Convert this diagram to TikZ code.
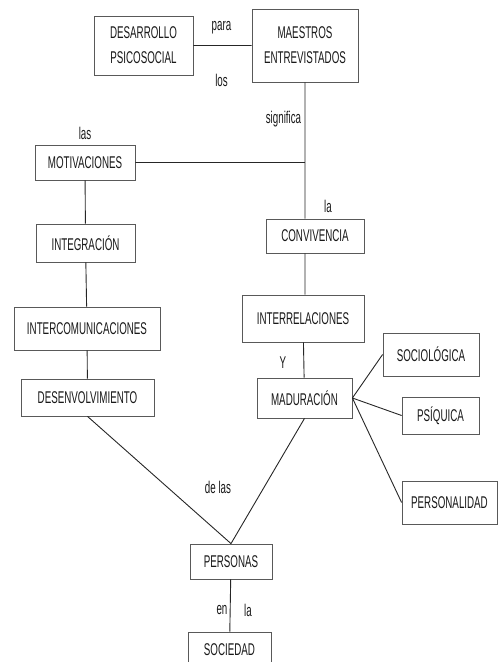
\documentclass[tikz,border=0pt]{standalone}
\usepackage{fontspec}
\setmainfont{Liberation Sans}[FakeStretch=0.575]
\usetikzlibrary{calc}

\begin{document}
\begin{tikzpicture}[x=1pt,y=-1pt,
    concept/.style={draw=black!65,line width=0.8pt,fill=white,inner sep=0pt,align=center,
        text=black!90,font=\fontsize{17}{25}\selectfont},
    word/.style={inner sep=0pt,text=black!90,font=\fontsize{17}{18}\selectfont},
    link/.style={draw=black!85,line width=0.9pt}]
\clip (0,0) rectangle (498,662);
\useasboundingbox (0,0) rectangle (498,662);
% concepts
\node[concept,minimum width=99pt,minimum height=59pt] (desarrollo) at (143.5,45.5) {DESARROLLO\\PSICOSOCIAL};
\node[concept,minimum width=106pt,minimum height=73pt] (maestros) at (305,45.5) {MAESTROS\\ENTREVISTADOS};
\node[concept,minimum width=100pt,minimum height=35pt] (motivaciones) at (85,162.5) {MOTIVACIONES};
\node[concept,minimum width=99pt,minimum height=38pt] (integracion) at (85.5,243) {INTEGRACIÓN};
\node[concept,minimum width=98pt,minimum height=34pt] (convivencia) at (315,236) {CONVIVENCIA};
\node[concept,minimum width=122pt,minimum height=47pt] (interrelaciones) at (303,318.5) {INTERRELACIONES};
\node[concept,minimum width=146pt,minimum height=43pt] (intercomunicaciones) at (87,328.5) {INTERCOMUNICACIONES};
\node[concept,minimum width=133pt,minimum height=37pt] (desenvolvimiento) at (87.5,397.5) {DESENVOLVIMIENTO};
\node[concept,minimum width=95pt,minimum height=40pt] (maduracion) at (304.5,398) {MADURACIÓN};
\node[concept,minimum width=96pt,minimum height=43pt] (sociologica) at (431,354.5) {SOCIOLÓGICA};
\node[concept,minimum width=77pt,minimum height=37pt] (psiquica) at (440.5,415.5) {PSÍQUICA};
\node[concept,minimum width=95pt,minimum height=43pt] (personalidad) at (449.5,502.5) {PERSONALIDAD};
\node[concept,minimum width=82pt,minimum height=35pt] (personas) at (231,561.5) {PERSONAS};
\node[concept,minimum width=83pt,minimum height=35pt] (sociedad) at (229.5,649.5) {SOCIEDAD};
% connectors
\coordinate (tronco) at (maestros.south |- motivaciones.east);
\draw[link]
    (desarrollo) -- (maestros)
    (maestros.south) -- (maestros.south |- convivencia.north)
    (motivaciones.east) -- (tronco)
    (motivaciones) -- (integracion)
    (integracion) -- (intercomunicaciones)
    (intercomunicaciones) -- (desenvolvimiento)
    (maestros.south |- convivencia.south) -- (maestros.south |- interrelaciones.north)
    (interrelaciones) -- (maduracion)
    (maduracion.east) -- (sociologica.west)
    (maduracion.east) -- (psiquica.west)
    (maduracion.east) -- (personalidad.west)
    (desenvolvimiento.south) -- (personas.north)
    (maduracion.south) -- (personas.north)
    (personas) -- (sociedad)
;
% linking words
\node[word] (para) at (221.5,28) {para};
\node[word] (los) at (221.5,80) {los};
\node[word] (significa) at (283.5,119) {significa};
\node[word] (las) at (85,133) {las};
\node[word] (la) at (328,206) {la};
\node[word] (y) at (283,363) {Y};
\node[word] (delas) at (218,487) {de las};
\node[word] (en) at (222,610) {en};
\node[word] (lasoc) at (248,610) {la};
\end{tikzpicture}
\end{document}
